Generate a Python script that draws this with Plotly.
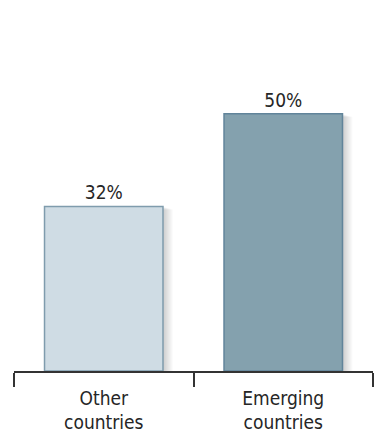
import plotly.graph_objects as go

categories = ["Other<br>countries", "Emerging<br>countries"]
values = [32, 50]
labels = ["32%", "50%"]
fill_colors = ["#cfdce4", "#84a1ae"]
edge_colors = ["#7f9cad", "#61849a"]

FONT = "DejaVu Sans Condensed, Liberation Sans Narrow, sans-serif"
W, H = 377, 434
margin = dict(l=14, r=4, t=11, b=63)
y_max = 70
bar_width = 0.66

plot_w = W - margin["l"] - margin["r"]
plot_h = H - margin["t"] - margin["b"]
px_x = len(categories) / plot_w   # data units per pixel (x)
px_y = y_max / plot_h             # data units per pixel (y)

fig = go.Figure()

fig.add_trace(go.Bar(
    x=categories,
    y=values,
    width=bar_width,
    marker=dict(color=fill_colors, line=dict(color=edge_colors, width=1.5)),
    text=labels,
    textposition="outside",
    textfont=dict(family=FONT, size=19, color="#262626"),
    cliponaxis=False,
    hoverinfo="skip",
))

# soft drop shadow built from stacked translucent rectangles
shapes = []
for i, v in enumerate(values):
    for k in range(1, 11):
        off = k * 1.0
        shapes.append(dict(
            type="rect", layer="below", xref="x", yref="y",
            x0=i - bar_width / 2 + 2 * px_x,
            x1=i + bar_width / 2 + off * px_x,
            y0=-off * px_y * 1.2,
            y1=v - off * px_y * 0.3,
            line=dict(width=0),
            fillcolor="rgba(0,0,0,0.018)",
        ))
fig.update_layout(shapes=shapes)

fig.update_xaxes(
    type="category",
    range=[-0.5, len(categories) - 0.5],
    automargin=False,
    showline=True, linecolor="#333333", linewidth=1.5,
    ticks="outside", ticklen=14, tickwidth=2, tickcolor="#333333",
    tickson="boundaries",
    ticklabelstandoff=9,
    showgrid=False, zeroline=False,
    tickfont=dict(family=FONT, size=19, color="#262626"),
)
fig.update_yaxes(range=[0, y_max], visible=False, showgrid=False, zeroline=False)

fig.update_layout(
    width=W, height=H, margin=margin,
    paper_bgcolor="white", plot_bgcolor="white",
    showlegend=False, bargap=1 - bar_width,
)

fig.write_html("out.html", config={"displayModeBar": False})
